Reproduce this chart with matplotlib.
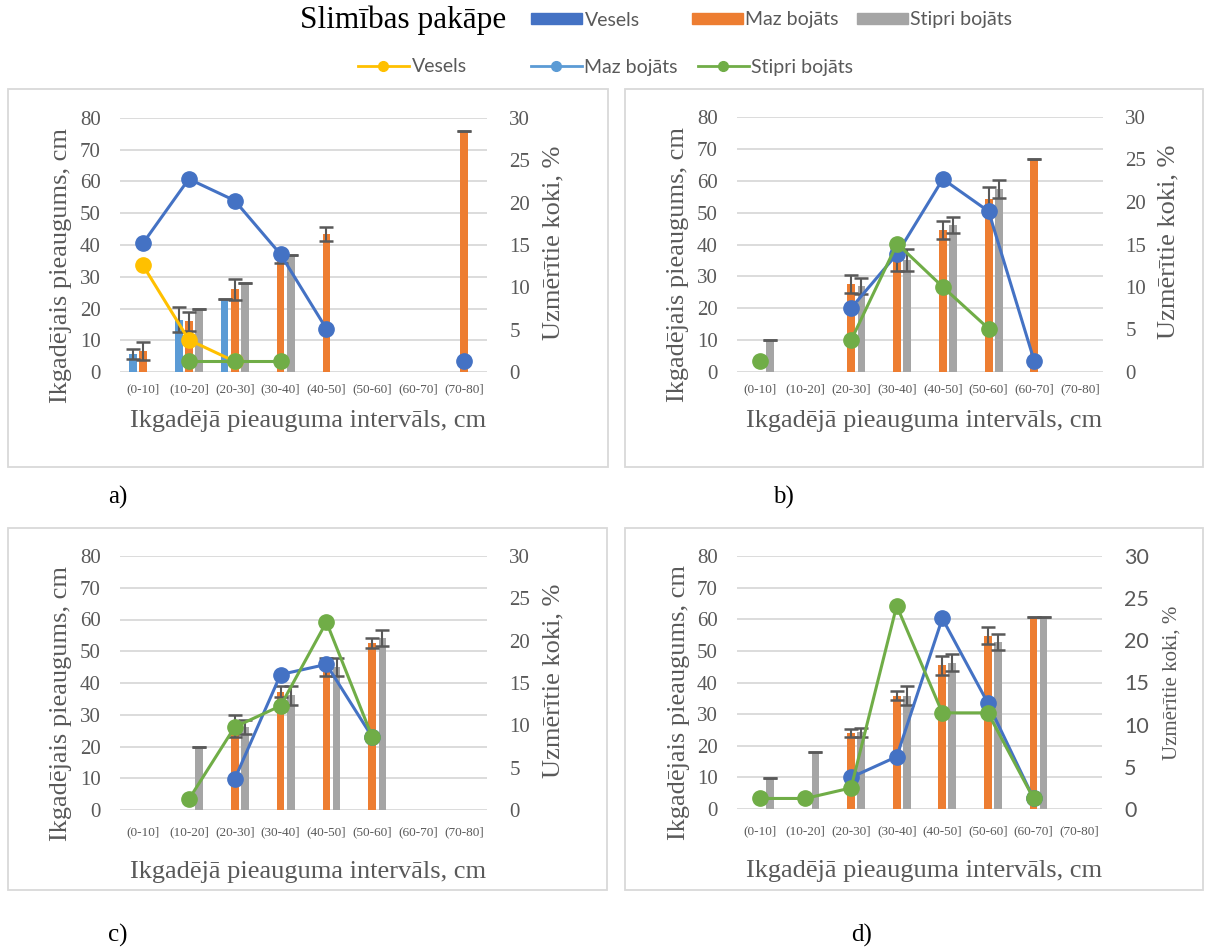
import numpy as np
import matplotlib
matplotlib.use("Agg")
import matplotlib.pyplot as plt
from matplotlib.patches import Rectangle, Patch
from matplotlib.lines import Line2D

plt.rcParams['font.family'] = ['Liberation Serif', 'DejaVu Serif']

nan = np.nan
intervals = ['(0-10]', '(10-20]', '(20-30]', '(30-40]', '(40-50]', '(50-60]', '(60-70]', '(70-80]']

# a) bars: mean growth, cm (+ error), lines: share of measured trees, %
a_vesels = [5.6, 16.5, 23.0, nan, nan, nan, nan, nan]
a_vesels_err = [1.5, 4.0, 0.0, nan, nan, nan, nan, nan]
a_maz = [6.6, 16.0, 26.0, 35.5, 43.5, nan, nan, 76.0]
a_maz_err = [2.7, 3.0, 3.3, 1.2, 2.2, nan, nan, 0.0]
a_stipri = [nan, 20.0, 28.0, 37.0, nan, nan, nan, nan]
a_stipri_err = [nan, 0.0, 0.0, 0.0, nan, nan, nan, nan]
a_vesels_pct = [12.6, 3.8, 1.25, nan, nan, nan, nan, nan]
a_maz_pct = [15.2, 22.8, 20.25, 13.9, 5.1, nan, nan, 1.25]
a_stipri_pct = [nan, 1.25, 1.25, 1.25, nan, nan, nan, nan]

# b)
b_maz = [nan, nan, 27.7, 35.3, 44.6, 54.4, 66.8, nan]
b_maz_err = [nan, nan, 2.8, 3.5, 2.8, 3.6, 0.0, nan]
b_stipri = [10.0, nan, 27.0, 35.1, 46.1, 57.3, nan, nan]
b_stipri_err = [0.0, nan, 2.5, 3.4, 2.6, 2.8, nan, nan]
b_maz_pct = [nan, nan, 7.55, 13.9, 22.7, 18.9, 1.25, nan]
b_stipri_pct = [1.25, nan, 3.8, 15.1, 10.0, 5.1, nan, nan]

# c)
c_maz = [nan, nan, 26.5, 37.3, 45.1, 52.5, nan, nan]
c_maz_err = [nan, nan, 3.5, 1.7, 2.9, 1.6, nan, nan]
c_stipri = [nan, 19.8, 26.2, 36.2, 45.0, 54.3, nan, nan]
c_stipri_err = [nan, 0.0, 2.2, 3.0, 2.8, 2.5, nan, nan]
c_maz_pct = [nan, nan, 3.65, 16.0, 17.2, 8.6, nan, nan]
c_stipri_pct = [nan, 1.25, 9.8, 12.3, 22.2, 8.6, nan, nan]

# d)
d_maz = [nan, nan, 24.0, 35.8, 45.5, 54.8, 60.8, nan]
d_maz_err = [nan, nan, 1.3, 1.4, 3.0, 2.7, 0.0, nan]
d_stipri = [9.8, 17.9, 24.2, 35.8, 46.3, 52.8, 60.8, nan]
d_stipri_err = [0.0, 0.0, 1.5, 3.0, 2.6, 2.5, 0.0, nan]
d_maz_pct = [nan, nan, 3.75, 6.2, 22.6, 12.55, 1.25, nan]
d_stipri_pct = [1.25, 1.25, 2.5, 24.1, 11.4, 11.4, 1.25, nan]

BAR_COLORS = {'vesels': '#5B9BD5', 'maz': '#ED7D31', 'stipri': '#A5A5A5'}
LINE_COLORS = {'vesels': '#FFC000', 'maz': '#4472C4', 'stipri': '#70AD47'}
TXT = '#595959'

W, H = 1214, 952
fig = plt.figure(figsize=(W / 100, H / 100), dpi=100)


def px_axes(l, t, r, b):
    return fig.add_axes([l / W, 1 - b / H, (r - l) / W, (b - t) / H])


def draw_panel(box, bars, lines, xpad, xlab_y, right_lab_x, right_style='serif'):
    ax = px_axes(*box)
    x = np.arange(len(intervals))
    offsets = {'vesels': -0.22, 'maz': 0.0, 'stipri': 0.22}
    for key, vals, errs in bars:
        pos = x + offsets[key]
        ax.bar(pos, vals, width=0.17, color=BAR_COLORS[key], zorder=2)
        ax.errorbar(pos, vals, yerr=errs, fmt='none', ecolor=TXT, elinewidth=1.5,
                    capsize=5, capthick=1.8, zorder=3)
    ax.set_xlim(-0.5, len(intervals) - 0.5)
    ax.set_ylim(0, 80)
    ax.set_yticks(range(0, 81, 10))
    ax.set_xticks(x)
    ax.set_xticklabels(intervals, fontsize=9.5, color=TXT)
    ax.tick_params(axis='x', length=0, pad=xpad)
    ax.tick_params(axis='y', length=0, labelsize=15, labelcolor=TXT, pad=14)
    ax.grid(axis='y', color='#D9D9D9', lw=1.3, zorder=0)
    ax.set_axisbelow(True)
    for s in ax.spines.values():
        s.set_visible(False)
    ax.set_ylabel('Ikgadējais pieaugums, cm', fontsize=19, color=TXT)
    ax.yaxis.set_label_coords(-0.13, 0.42)
    ax.set_xlabel('Ikgadējā pieauguma intervāls, cm', fontsize=19, color=TXT)
    ax.xaxis.set_label_coords(0.512, xlab_y)

    ax2 = ax.twinx()
    for key, vals in lines:
        ax2.plot(x, vals, color=LINE_COLORS[key], lw=2.2, marker='o', ms=11, zorder=4)
    ax2.set_ylim(0, 30)
    ax2.set_yticks(range(0, 31, 5))
    for s in ax2.spines.values():
        s.set_visible(False)
    if right_style == 'sans':
        ax2.tick_params(axis='y', length=0, labelcolor=TXT, pad=16)
        for t in ax2.get_yticklabels():
            t.set_family('Lato')
            t.set_fontsize(15.5)
        ax2.set_ylabel('Uzmērītie koki, %', fontsize=15, color=TXT)
        ax2.yaxis.set_label_coords(right_lab_x, 0.5)
    else:
        ax2.tick_params(axis='y', length=0, labelsize=15, labelcolor=TXT, pad=16)
        ax2.set_ylabel('Uzmērītie koki, %', fontsize=19, color=TXT)
        ax2.yaxis.set_label_coords(right_lab_x, 0.51)
    return ax, ax2


draw_panel((120, 118, 487, 372),
           [('vesels', a_vesels, a_vesels_err), ('maz', a_maz, a_maz_err), ('stipri', a_stipri, a_stipri_err)],
           [('vesels', a_vesels_pct), ('maz', a_maz_pct), ('stipri', a_stipri_pct)],
           xpad=8, xlab_y=-0.15, right_lab_x=1.15)
draw_panel((737, 117, 1103, 372),
           [('maz', b_maz, b_maz_err), ('stipri', b_stipri, b_stipri_err)],
           [('maz', b_maz_pct), ('stipri', b_stipri_pct)],
           xpad=8, xlab_y=-0.15, right_lab_x=1.15)
draw_panel((120, 556, 487, 810),
           [('maz', c_maz, c_maz_err), ('stipri', c_stipri, c_stipri_err)],
           [('maz', c_maz_pct), ('stipri', c_stipri_pct)],
           xpad=12, xlab_y=-0.2, right_lab_x=1.15)
draw_panel((737, 556, 1102, 809),
           [('maz', d_maz, d_maz_err), ('stipri', d_stipri, d_stipri_err)],
           [('maz', d_maz_pct), ('stipri', d_stipri_pct)],
           xpad=12, xlab_y=-0.2, right_lab_x=1.165, right_style='sans')

# panel frames
for l, t, r, b in [(8, 89, 608, 467), (625, 89, 1203, 467), (8, 528, 607, 890), (625, 528, 1203, 890)]:
    fig.patches.append(Rectangle((l / W, 1 - b / H), (r - l) / W, (b - t) / H,
                                 transform=fig.transFigure, fill=False,
                                 edgecolor='#D9D9D9', lw=1.3))

# panel letters
for lab, px, py in [('a)', 118, 497), ('b)', 783, 497), ('c)', 118, 935), ('d)', 862, 935)]:
    fig.text(px / W, 1 - py / H, lab, fontsize=18, ha='center', va='center')

# legend (shown as in the source figure)
fig.text(300 / W, 1 - 20 / H, 'Slimības pakāpe', fontsize=22.5, ha='left', va='center')
leg_entries = [
    (Patch(color='#4472C4'), 'Vesels', 531, 20),
    (Patch(color=BAR_COLORS['maz']), 'Maz bojāts', 692, 20),
    (Patch(color=BAR_COLORS['stipri']), 'Stipri bojāts', 857, 20),
    (Line2D([], [], color=LINE_COLORS['vesels'], lw=2, marker='o', ms=7), 'Vesels', 358, 67),
    (Line2D([], [], color='#5B9BD5', lw=2, marker='o', ms=7), 'Maz bojāts', 531, 67),
    (Line2D([], [], color=LINE_COLORS['stipri'], lw=2, marker='o', ms=7), 'Stipri bojāts', 698, 67),
]
for handle, label, px, py in leg_entries:
    fig.legend([handle], [label], loc='center left', bbox_to_anchor=(px / W, 1 - py / H),
               frameon=False, borderpad=0, borderaxespad=0, handlelength=2.6,
               handleheight=0.45, handletextpad=0.15,
               prop={'family': 'Lato', 'size': 14}, labelcolor=TXT)

fig.savefig('out.png', dpi=100)
